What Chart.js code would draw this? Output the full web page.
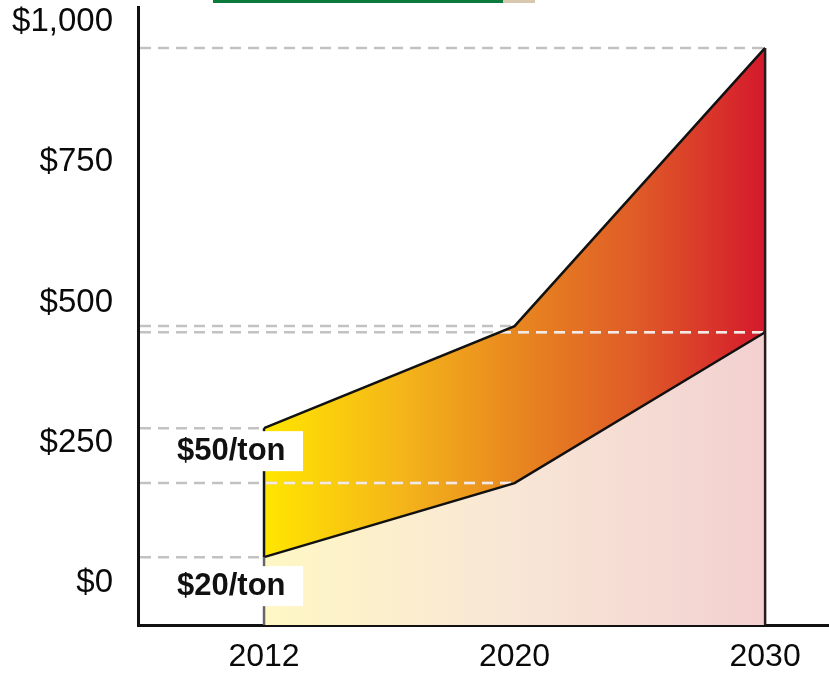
<!DOCTYPE html>
<html><head><meta charset="utf-8">
<script src="https://cdn.jsdelivr.net/npm/chart.js@4/dist/chart.umd.min.js"></script>
<style>html,body{margin:0;padding:0;background:#fff;}#wrap{width:829px;height:676px;position:relative;}</style>
</head><body><div id="wrap"><canvas id="c" width="829" height="676"></canvas></div>
<script>
// ---- data ----
const years = ['2012', '2020', '2030'];
const price20 = [46, 178, 447];   // $20/ton scenario
const price50 = [276, 458, 954];  // $50/ton scenario
const yTicks = [0, 250, 500, 750, 1000];
const bandLabels = ['$50/ton', '$20/ton'];

const FONT = '"Liberation Sans", Arial, sans-serif';
const lowStops = [[0, '#fff7c4'], [0.5, '#f8e6d6'], [1, '#f2d0d0']];
const bandStops = [[0, '#ffe600'], [0.28, '#f4b41a'], [0.5, '#e8881f'], [0.75, '#df5a28'], [1, '#d4192c']];

function hGrad(chart, stops) {
  const {ctx, chartArea, scales} = chart;
  if (!chartArea) return 'rgba(0,0,0,0)';
  const x0 = scales.x.getPixelForValue(0), x1 = scales.x.getPixelForValue(years.length - 1);
  const g = ctx.createLinearGradient(x0, 0, x1, 0);
  stops.forEach(([o, c]) => g.addColorStop(o, c));
  return g;
}

const guides = {
  id: 'guides',
  beforeDatasetsDraw(chart) {
    const {ctx, chartArea: a, scales: {x, y}} = chart;
    const pts = [];
    [price20, price50].forEach(arr => arr.forEach((v, i) => pts.push({px: x.getPixelForValue(i), py: y.getPixelForValue(v)})));
    ctx.save();
    ctx.lineWidth = 2.5;
    ctx.setLineDash([11, 7]);
    ctx.strokeStyle = '#c2c2c2';
    pts.forEach(p => { ctx.beginPath(); ctx.moveTo(a.left + 2, p.py); ctx.lineTo(p.px, p.py); ctx.stroke(); });
    ctx.save();
    ctx.beginPath();
    ctx.moveTo(x.getPixelForValue(0), y.getPixelForValue(price20[0]));
    price50.forEach((v, i) => ctx.lineTo(x.getPixelForValue(i), y.getPixelForValue(v)));
    for (let i = price20.length - 1; i >= 0; i--) ctx.lineTo(x.getPixelForValue(i), y.getPixelForValue(price20[i]));
    ctx.closePath();
    ctx.clip();
    ctx.strokeStyle = 'rgba(255,238,232,0.85)';
    pts.forEach(p => { ctx.beginPath(); ctx.moveTo(a.left + 2, p.py); ctx.lineTo(p.px, p.py); ctx.stroke(); });
    ctx.restore();
    ctx.restore();
  },
  afterDatasetsDraw(chart) {
    const {ctx, chartArea: a, scales: {x, y}} = chart;
    const n = years.length - 1;
    const x0 = x.getPixelForValue(0), xn = x.getPixelForValue(n);
    ctx.save();
    ctx.lineWidth = 2.5;
    ctx.strokeStyle = '#666';
    ctx.beginPath(); ctx.moveTo(x0, y.getPixelForValue(price20[0])); ctx.lineTo(x0, a.bottom); ctx.stroke();
    ctx.strokeStyle = '#151515';
    ctx.beginPath(); ctx.moveTo(x0, y.getPixelForValue(price50[0])); ctx.lineTo(x0, y.getPixelForValue(price20[0])); ctx.stroke();
    ctx.strokeStyle = '#2a1c1c';
    ctx.beginPath(); ctx.moveTo(xn, y.getPixelForValue(price50[n])); ctx.lineTo(xn, a.bottom); ctx.stroke();
    ctx.font = 'bold 31px ' + FONT;
    ctx.textBaseline = 'middle';
    ctx.textAlign = 'left';
    [[bandLabels[0], price50[0], 3], [bandLabels[1], price20[0], 9]].forEach(([t, v, off]) => {
      const top = y.getPixelForValue(v) + off;
      const left = x0 - 88, right = x0 + 39;
      ctx.fillStyle = '#fff';
      ctx.fillRect(left, top, right - left, 40);
      ctx.fillStyle = '#111';
      ctx.fillText(t, left + 1, top + 20);
    });
    ctx.restore();
  },
  afterDraw(chart) {
    const {ctx} = chart;
    ctx.save();
    ctx.fillStyle = '#0b7a3c';
    ctx.fillRect(213, 0, 290, 3);
    ctx.fillStyle = '#d9c8b0';
    ctx.fillRect(503, 0, 32, 3);
    ctx.restore();
  }
};

new Chart(document.getElementById('c'), {
  type: 'line',
  data: {
    datasets: [
      {label: bandLabels[1], data: price20.map((v, i) => ({x: i, y: v})), borderColor: '#111', borderWidth: 2.5,
       pointRadius: 0, tension: 0, fill: 'start', backgroundColor: c => hGrad(c.chart, lowStops)},
      {label: bandLabels[0], data: price50.map((v, i) => ({x: i, y: v})), borderColor: '#111', borderWidth: 2.5,
       pointRadius: 0, tension: 0, fill: '-1', backgroundColor: c => hGrad(c.chart, bandStops)}
    ]
  },
  options: {
    responsive: false, animation: false, devicePixelRatio: 1,
    layout: {padding: {top: 7, left: 0, right: 0, bottom: 0}},
    plugins: {legend: {display: false}, tooltip: {enabled: false}, filler: {drawTime: 'beforeDatasetsDraw'}},
    scales: {
      x: {
        type: 'linear', min: -0.503, max: 2.255,
        afterBuildTicks: s => { s.ticks = years.map((_, i) => ({value: i})); },
        ticks: {callback: v => years[v], font: {family: FONT, size: 32}, color: '#0a0a0a', padding: 13, maxRotation: 0, autoSkip: false},
        grid: {display: false, drawTicks: false},
        border: {display: true, color: '#111', width: 3},
        afterFit: s => { s.height = 51; s.paddingLeft = 0; s.paddingRight = 0; }
      },
      y: {
        min: -75, max: 1027,
        afterBuildTicks: s => { s.ticks = yTicks.map(v => ({value: v})); },
        ticks: {callback: v => '$' + v.toLocaleString('en-US'), font: {family: FONT, size: 33}, color: '#0a0a0a', padding: 25},
        grid: {display: false, drawTicks: false},
        border: {display: true, color: '#111', width: 3},
        afterFit: s => { s.width = 138; s.paddingTop = 0; s.paddingBottom = 0; }
      }
    }
  },
  plugins: [guides]
});
</script></body></html>
